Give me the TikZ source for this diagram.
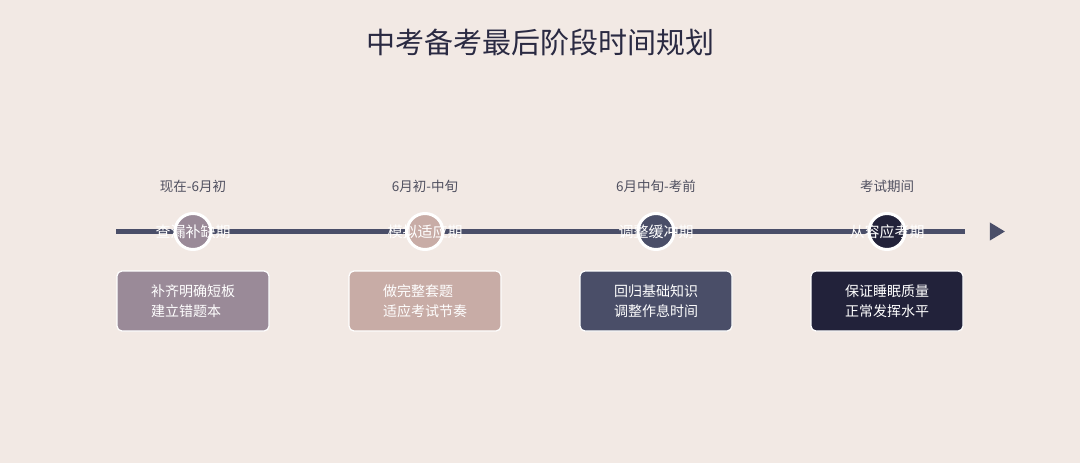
\documentclass[tikz,border=0pt]{standalone}
\usepackage{fontspec}
\setmainfont{Noto Sans CJK SC}
\usepackage{tikz}
\usetikzlibrary{shapes.geometric}

\definecolor{bgcol}{RGB}{242,233,228}
\definecolor{titlecol}{RGB}{42,42,66}
\definecolor{linecol}{RGB}{74,78,104}
\definecolor{datecol}{RGB}{80,80,96}
\definecolor{phaseA}{RGB}{154,138,152}
\definecolor{phaseB}{RGB}{200,172,166}
\definecolor{phaseC}{RGB}{74,78,104}
\definecolor{phaseD}{RGB}{34,34,58}

\begin{document}
\begin{tikzpicture}[x=1pt,y=1pt,yscale=-1,xscale=1,
  dot/.style={circle,draw=white,line width=3pt,minimum size=36pt,inner sep=0pt},
  phase/.style={text=white,font=\fontsize{15}{18}\selectfont,inner sep=0.75pt},
  date/.style={text=datecol,font=\fontsize{13.5}{16}\selectfont,inner sep=0.75pt},
  taskbox/.style={rectangle,rounded corners=5pt,draw=white,line width=1.2pt,minimum width=152pt,minimum height=60pt,text=white,align=left,font=\fontsize{14}{19.5}\selectfont,inner sep=0pt}]
%set diagram size
\fill[bgcol] (0,0) rectangle (1080,463);
\useasboundingbox (0,0) rectangle (1080,463);

% Title
\draw (540,42) node [text=titlecol,font=\fontsize{29}{34}\selectfont] (title) {中考备考最后阶段时间规划};

%Straight Lines
\coordinate (lineL) at (116,231.5);
\coordinate (lineR) at (965,231.5);
\draw [linecol,line width=4.5pt] (lineL) -- (lineR);
%Arrow head
\draw (995,231.5) node [fill=linecol,isosceles triangle,isosceles triangle apex angle=62,minimum height=15pt,minimum width=16pt,inner sep=0pt] (arrow) {};

% Dots
\draw (193,231.5) node [dot,fill=phaseA] (dotA) {};
\draw (425,231.5) node [dot,fill=phaseB] (dotB) {};
\draw (656,231.5) node [dot,fill=phaseC] (dotC) {};
\draw (887,231.5) node [dot,fill=phaseD] (dotD) {};

% Text Node
\draw (dotA) node [phase] {查漏补缺期};
\draw (dotB) node [phase] {模拟适应期};
\draw (dotC) node [phase] {调整缓冲期};
\draw (dotD) node [phase] {从容应考期};

% Text Node
\draw (193,186) node [date] (dateA) {现在-6月初};
\draw (425,186) node [date] (dateB) {6月初-中旬};
\draw (656,186) node [date] (dateC) {6月中旬-考前};
\draw (887,186) node [date] (dateD) {考试期间};

% Boxes
\draw (193,301) node [taskbox,fill=phaseA] (taskA) {补齐明确短板\\建立错题本};
\draw (425,301) node [taskbox,fill=phaseB] (taskB) {做完整套题\\适应考试节奏};
\draw (656,301) node [taskbox,fill=phaseC] (taskC) {回归基础知识\\调整作息时间};
\draw (887,301) node [taskbox,fill=phaseD] (taskD) {保证睡眠质量\\正常发挥水平};

\end{tikzpicture}
\end{document}
